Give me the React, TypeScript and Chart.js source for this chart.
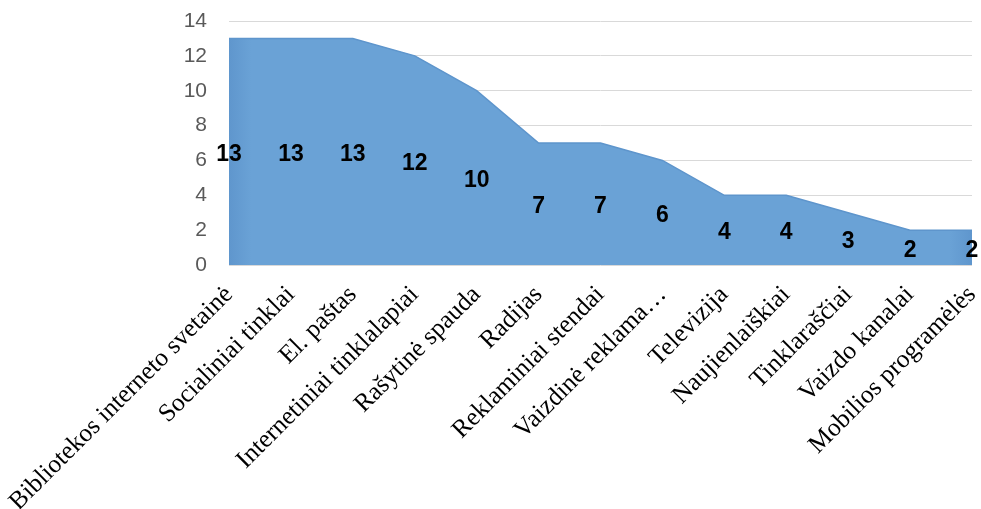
import React, { useEffect, useRef } from "react";
import { Chart, registerables } from "chart.js";

Chart.register(...registerables);

const categories: string[] = [
  "Bibliotekos interneto svetainė",
  "Socialiniai tinklai",
  "El. paštas",
  "Internetiniai tinklalapiai",
  "Rašytinė spauda",
  "Radijas",
  "Reklaminiai stendai",
  "Vaizdinė reklama…",
  "Televizija",
  "Naujienlaiškiai",
  "Tinklaraščiai",
  "Vaizdo kanalai",
  "Mobilios programėlės",
];
const values: number[] = [13, 13, 13, 12, 10, 7, 7, 6, 4, 4, 3, 2, 2];
const yMin = 0;
const yMax = 14;
const yStep = 2;

const dataLabelPlugin = {
  id: "centerLabels",
  afterDatasetsDraw(chart: any) {
    const meta = chart.getDatasetMeta(0);
    const yScale = chart.scales.y;
    const ctx = chart.ctx;
    ctx.save();
    ctx.font = "bold 23px 'Liberation Sans', Arial, sans-serif";
    ctx.fillStyle = "#000000";
    ctx.textAlign = "center";
    ctx.textBaseline = "middle";
    meta.data.forEach((pt: any, i: number) => {
      const v = values[i];
      const y = yScale.getPixelForValue(v / 2) + 3;
      ctx.fillText(String(v), pt.x, y);
    });
    ctx.restore();
  },
};

export default function App() {
  const ref = useRef<HTMLCanvasElement | null>(null);
  useEffect(() => {
    document.body.style.margin = "0";
    const canvas = ref.current;
    if (!canvas) return;
    const chart = new Chart(canvas, {
      type: "line",
      data: {
        labels: categories,
        datasets: [
          {
            data: values,
            fill: "origin",
            backgroundColor: (c: any) => {
              const area = c.chart.chartArea;
              if (!area) return "#6aa1d5";
              const g = c.chart.ctx.createLinearGradient(area.left, 0, area.right, 0);
              g.addColorStop(0, "#5f96cd");
              g.addColorStop(0.03, "#6aa2d6");
              g.addColorStop(0.97, "#6aa2d6");
              g.addColorStop(1, "#5f96cd");
              return g;
            },
            borderColor: "#5e95cc",
            borderWidth: 1.5,
            pointRadius: 0,
            tension: 0,
          },
        ],
      },
      options: {
        responsive: false,
        animation: false,
        layout: { padding: { top: 21, right: 9, left: 0, bottom: 0 } },
        plugins: {
          legend: { display: false },
          tooltip: { enabled: false },
        },
        scales: {
          x: {
            offset: false,
            grid: { display: false },
            border: { display: false },
            ticks: {
              autoSkip: false,
              maxRotation: 45,
              minRotation: 45,
              padding: 7,
              color: "#000000",
              font: { family: "'Liberation Serif', 'Times New Roman', serif", size: 25.5 },
            },
            afterFit(scale: any) {
              scale.height = 244;
              scale.paddingLeft = 0;
              scale.paddingRight = 0;
            },
          },
          y: {
            min: yMin,
            max: yMax,
            grid: { color: "#d9d9d9", lineWidth: 1, drawTicks: false },
            border: { display: false },
            ticks: {
              stepSize: yStep,
              padding: 22,
              color: "#595959",
              font: { family: "'Liberation Sans', Arial, sans-serif", size: 21 },
            },
            afterFit(scale: any) {
              scale.width = 229;
              scale.paddingTop = 0;
              scale.paddingBottom = 0;
            },
          },
        },
      },
      plugins: [dataLabelPlugin],
    } as any);
    return () => chart.destroy();
  }, []);
  return (
    <div style={{ width: 981, height: 509, background: "#ffffff" }}>
      <canvas ref={ref} width={981} height={509} />
    </div>
  );
}
